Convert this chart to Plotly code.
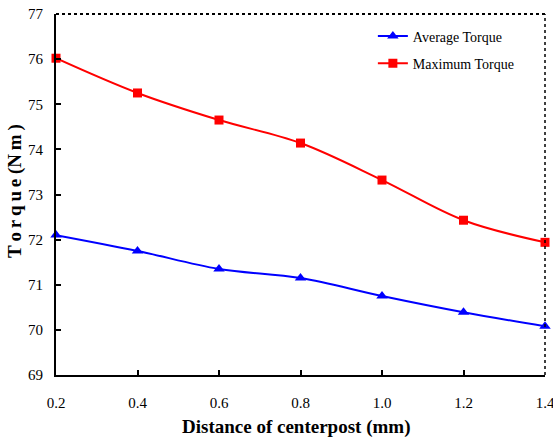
import plotly.graph_objects as go

distance = [0.2, 0.4, 0.6, 0.8, 1.0, 1.2, 1.4]
avg_torque = [72.1, 71.75, 71.35, 71.15, 70.75, 70.39, 70.08]
max_torque = [76.02, 75.25, 74.65, 74.14, 73.32, 72.43, 71.94]
x_ticks = [0.2, 0.4, 0.6, 0.8, 1.0, 1.2, 1.4]
x_tick_labels = ["0.2", "0.4", "0.6", "0.8", "1.0", "1.2", "1.4"]
y_ticks = [69, 70, 71, 72, 73, 74, 75, 76, 77]

font_serif = "Liberation Serif"
W, H = 553, 443
ML, MR, MT, MB = 56, 8, 14, 68
PW, PH = W - ML - MR, H - MT - MB

fig = go.Figure()
fig.add_trace(go.Scatter(
    x=distance, y=avg_torque, name="Average Torque", legendgroup="avg",
    mode="lines+markers", line=dict(color="#0000FF", width=2, shape="spline"),
    marker=dict(symbol="triangle-up", size=10, color="#0000FF"),
    cliponaxis=False,
))
fig.add_trace(go.Scatter(
    x=distance, y=max_torque, name="Maximum Torque", legendgroup="max",
    mode="lines+markers", line=dict(color="#FF0000", width=2, shape="spline"),
    marker=dict(symbol="square", size=9, color="#FF0000"),
    cliponaxis=False,
))

fig.update_layout(
    width=W, height=H,
    margin=dict(l=ML, r=MR, t=MT, b=MB, autoexpand=False),
    paper_bgcolor="white", plot_bgcolor="white",
    font=dict(family=font_serif, size=14, color="black"),
    showlegend=True,
    legend=dict(x=0.648, y=0.982, xanchor="left", yanchor="top",
                bgcolor="rgba(0,0,0,0)", font=dict(size=14, family=font_serif),
                tracegroupgap=6, itemwidth=30),
    xaxis=dict(
        range=[0.2, 1.4], tickvals=x_ticks, ticktext=x_tick_labels,
        showgrid=False, zeroline=False, showline=True, linecolor="black", linewidth=2,
        ticks="inside", ticklen=5, tickwidth=1.5, tickcolor="black",
        tickfont=dict(size=15, family=font_serif),
        ticklabelstandoff=13, ticklabeloverflow="allow",
        automargin=False,
    ),
    yaxis=dict(
        range=[69, 77], tickvals=y_ticks,
        showgrid=False, zeroline=False, showline=True, linecolor="black", linewidth=2,
        ticks="inside", ticklen=5, tickwidth=1.5, tickcolor="black",
        tickfont=dict(size=15, family=font_serif),
        ticklabelstandoff=8, ticklabeloverflow="allow",
        automargin=False,
    ),
)

fig.add_annotation(
    text="<b>Distance of centerpost (mm)</b>", xref="paper", yref="paper",
    x=(296 - ML) / PW, y=-(427 - (H - MB)) / PH, xanchor="center", yanchor="middle",
    showarrow=False, font=dict(size=19, family=font_serif, color="black"),
)
fig.add_annotation(
    text="<b>T\u2009o\u2009r\u2009q\u2009u\u2009e (N\u2009m\u2009)</b>", xref="paper", yref="paper",
    x=-(ML - 15) / PW, y=((H - MB) - 191) / PH, xanchor="center", yanchor="middle",
    textangle=-90, showarrow=False, font=dict(size=19, family=font_serif, color="black"),
)

fig.add_shape(type="line", xref="paper", yref="paper", x0=0, x1=1, y0=1, y1=1,
              line=dict(color="black", width=2, dash="dot"))
fig.add_shape(type="line", xref="paper", yref="paper", x0=1, x1=1, y0=0, y1=1,
              line=dict(color="black", width=1.5, dash="dot"))

fig.write_html("out.html", config={"displayModeBar": False},
               post_script="document.body.style.margin='0px';")
